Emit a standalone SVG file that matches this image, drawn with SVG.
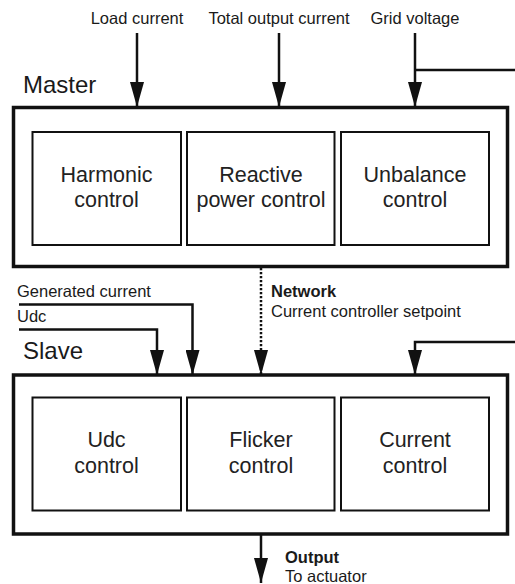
<svg xmlns="http://www.w3.org/2000/svg" width="515" height="584" viewBox="0 0 515 584">
<style>
text{font-family:"Liberation Sans",Arial,sans-serif;fill:#1a1a1a}
.lbl{font-size:16.5px}
.b{font-weight:bold}
.box{font-size:21.5px;text-anchor:middle;fill:#222}
.ttl{font-size:24px}
.outer{fill:#fff;stroke:#111;stroke-width:3.5}
.inner{fill:#fff;stroke:#111;stroke-width:2}
.ln{fill:none;stroke:#111;stroke-width:2.5}
.dot{stroke-dasharray:2.2,1.8}
</style>
<defs>
<marker id="ah" markerUnits="userSpaceOnUse" markerWidth="25" markerHeight="14" viewBox="0 0 25 14" refX="25" refY="7" orient="auto">
<path d="M0,0 L25,7 L0,14 z" fill="#111"/>
</marker>
</defs>
<rect width="515" height="584" fill="#fff"/>
<g id="master">
<text class="ttl" x="23" y="93">Master</text>
<rect class="outer" x="13.5" y="107.5" width="494" height="159"/>
</g>
<g id="harmonic">
<rect class="inner" x="32.5" y="132" width="148.5" height="113"/>
<text class="box" x="106.5" y="182">Harmonic</text>
<text class="box" x="106.5" y="207">control</text>
</g>
<g id="reactive">
<rect class="inner" x="187" y="132" width="147.5" height="113"/>
<text class="box" x="261" y="182">Reactive</text>
<text class="box" x="261" y="207">power control</text>
</g>
<g id="unbalance">
<rect class="inner" x="341" y="132" width="148" height="113"/>
<text class="box" x="415" y="182">Unbalance</text>
<text class="box" x="415" y="207">control</text>
</g>
<g id="slave">
<text class="ttl" x="23" y="359">Slave</text>
<rect class="outer" x="13.5" y="375" width="494" height="159"/>
</g>
<g id="udc">
<rect class="inner" x="32.5" y="397.5" width="148.5" height="113"/>
<text class="box" x="106.5" y="447">Udc</text>
<text class="box" x="106.5" y="473">control</text>
</g>
<g id="flicker">
<rect class="inner" x="187" y="397.5" width="147.5" height="113"/>
<text class="box" x="261" y="447">Flicker</text>
<text class="box" x="261" y="473">control</text>
</g>
<g id="current">
<rect class="inner" x="341" y="397.5" width="148" height="113"/>
<text class="box" x="415" y="447">Current</text>
<text class="box" x="415" y="473">control</text>
</g>
<g id="labels">
<text class="lbl" x="137" y="24" text-anchor="middle">Load current</text>
<text class="lbl" x="279" y="24" text-anchor="middle">Total output current</text>
<text class="lbl" x="415" y="24" text-anchor="middle">Grid voltage</text>
<text class="lbl" x="17" y="297">Generated current</text>
<text class="lbl" x="17" y="322">Udc</text>
<text class="lbl b" x="271" y="297">Network</text>
<text class="lbl" x="271" y="317">Current controller setpoint</text>
<text class="lbl b" x="285" y="563">Output</text>
<text class="lbl" x="285" y="582">To actuator</text>
</g>
<g id="connectors">
<path class="ln" d="M137,33 V107" marker-end="url(#ah)"/>
<path class="ln" d="M279,33 V107" marker-end="url(#ah)"/>
<path class="ln" d="M415,33 V107" marker-end="url(#ah)"/>
<path class="ln" d="M415,70 H515"/>
<path class="ln" d="M19,304.5 H192.5 V375" marker-end="url(#ah)"/>
<path class="ln" d="M19,329.5 H157 V375" marker-end="url(#ah)"/>
<path class="ln dot" d="M261,268 V375" marker-end="url(#ah)"/>
<path class="ln" d="M515,342 H415 V375" marker-end="url(#ah)"/>
<path class="ln" d="M261,534 V583" marker-end="url(#ah)"/>
</g>
</svg>
